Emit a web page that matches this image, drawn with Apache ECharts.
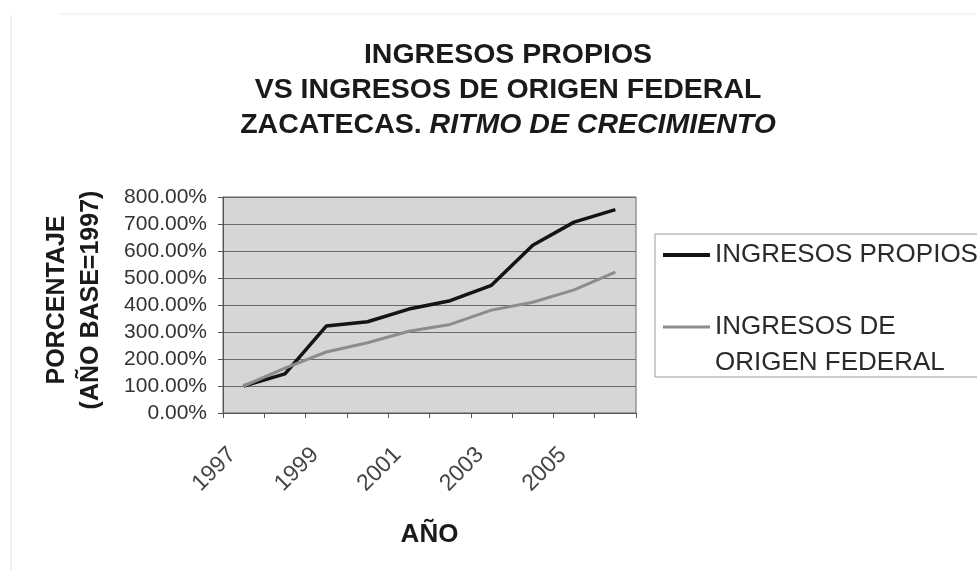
<!DOCTYPE html>
<html>
<head>
<meta charset="utf-8">
<script src="https://cdn.jsdelivr.net/npm/echarts@6/dist/echarts.min.js"></script>
<style>
  html, body { margin: 0; padding: 0; background: #fff; }
  #chart { width: 977px; height: 570px; }
</style>
</head>
<body>
<div id="chart"></div>
<script>
// datos (porcentaje, año base 1997 = 100%)
var years = ['1997', '1998', '1999', '2000', '2001', '2002', '2003', '2004', '2005', '2006'];
var propios = [100, 145, 322, 338, 385, 416, 473, 621, 707, 753];
var federal = [100, 166, 226, 260, 303, 328, 381, 410, 456, 522];

var FONT = '"Liberation Sans", Arial, sans-serif';

var myChart = echarts.init(document.getElementById('chart'));
var option = {
    backgroundColor: '#fff',
    animation: false,
    title: {
        left: 503,
        top: 33,
        textAlign: 'center',
        text: '{b|INGRESOS PROPIOS}\n{b|VS INGRESOS DE ORIGEN FEDERAL}\n{b|ZACATECAS. }{i|RITMO DE CRECIMIENTO}',
        textStyle: {
            rich: {
                b: { fontFamily: FONT, fontSize: 28.5, fontWeight: 'bold', color: '#1a1a1a', lineHeight: 35 },
                i: { fontFamily: FONT, fontSize: 28.5, fontWeight: 'bold', fontStyle: 'italic', color: '#1a1a1a', lineHeight: 35 }
            }
        }
    },
    legend: [
        {
            data: ['INGRESOS PROPIOS'],
            left: 663,
            top: 242,
            padding: 0,
            icon: 'rect',
            itemWidth: 47,
            itemHeight: 4,
            textStyle: { fontFamily: FONT, fontSize: 26, color: '#2a2a2a' }
        },
        {
            data: ['INGRESOS DE ORIGEN FEDERAL'],
            left: 663,
            top: 314,
            padding: 0,
            icon: 'rect',
            itemWidth: 47,
            itemHeight: 3,
            formatter: function () { return 'INGRESOS DE'; },
            textStyle: { fontFamily: FONT, fontSize: 26, color: '#2a2a2a' }
        }
    ],
    graphic: [
        // marco de la leyenda
        { type: 'rect', shape: { x: 655, y: 234, width: 340, height: 143 }, style: { fill: 'none', stroke: '#9a9a9a', lineWidth: 1 } },
        { type: 'text', left: 715, top: 350, style: { text: 'ORIGEN FEDERAL', font: '26px ' + FONT, fill: '#2a2a2a' } },
        // título del eje Y
        {
            type: 'text', x: 74, y: 300, rotation: Math.PI / 2,
            style: {
                text: 'PORCENTAJE\n(AÑO BASE=1997)', font: 'bold 25px ' + FONT, fill: '#1a1a1a',
                align: 'center', verticalAlign: 'middle', lineHeight: 34
            }
        },
        // bordes tenues de la hoja
        { type: 'line', shape: { x1: 11, y1: 15, x2: 11, y2: 570 }, style: { stroke: '#e2e2e2', lineWidth: 1 } },
        { type: 'line', shape: { x1: 60, y1: 14, x2: 977, y2: 14 }, style: { stroke: '#ececec', lineWidth: 1 } }
    ],
    grid: {
        left: 223,
        top: 197,
        width: 413,
        height: 216,
        show: true,
        backgroundColor: '#d6d6d6',
        borderColor: '#666',
        borderWidth: 1
    },
    xAxis: {
        type: 'category',
        data: years,
        boundaryGap: true,
        name: 'AÑO',
        nameLocation: 'middle',
        nameGap: 109,
        nameTextStyle: { fontFamily: FONT, fontSize: 26, fontWeight: 'bold', color: '#1a1a1a' },
        axisLine: { lineStyle: { color: '#555' } },
        axisTick: { show: true, interval: 0, length: 5, lineStyle: { color: '#555' } },
        axisLabel: {
            interval: 1,
            rotate: 45,
            margin: 27,
            padding: [0, 16, 0, 0],
            fontFamily: FONT,
            fontSize: 23,
            color: '#444'
        }
    },
    yAxis: {
        type: 'value',
        min: 0,
        max: 800,
        interval: 100,
        axisLine: { show: true, lineStyle: { color: '#555' } },
        axisTick: { show: true, length: 5, lineStyle: { color: '#555' } },
        splitLine: { lineStyle: { color: '#6a6a6a', width: 1 } },
        axisLabel: {
            margin: 16,
            fontFamily: FONT,
            fontSize: 21,
            color: '#333',
            formatter: function (v) { return v.toFixed(2) + '%'; }
        }
    },
    series: [
        {
            name: 'INGRESOS PROPIOS',
            type: 'line',
            data: propios,
            showSymbol: false,
            itemStyle: { color: '#141414' },
            lineStyle: { color: '#141414', width: 3.5 }
        },
        {
            name: 'INGRESOS DE ORIGEN FEDERAL',
            type: 'line',
            data: federal,
            showSymbol: false,
            itemStyle: { color: '#8c8c8c' },
            lineStyle: { color: '#8c8c8c', width: 3 }
        }
    ]
};
myChart.setOption(option);
</script>
</body>
</html>
